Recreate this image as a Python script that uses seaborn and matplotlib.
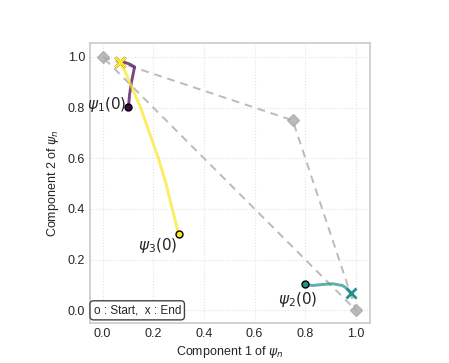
import numpy as np
import pandas as pd
import matplotlib
matplotlib.use("Agg")
import matplotlib.pyplot as plt
import seaborn as sns

# simplex corners (gray diamonds)
corner_x = [0.0, 0.75, 1.0]
corner_y = [1.0, 0.75, 0.0]

# trajectories
psi1_x = [0.102, 0.106, 0.114, 0.122, 0.126, 0.106, 0.083, 0.067]
psi1_y = [0.803, 0.850, 0.902, 0.941, 0.961, 0.972, 0.980, 0.980]
psi2_x = [0.799, 0.828, 0.868, 0.907, 0.946, 0.966, 0.979]
psi2_y = [0.102, 0.098, 0.102, 0.105, 0.098, 0.085, 0.070]
psi3_x = [0.300, 0.275, 0.250, 0.220, 0.185, 0.150, 0.115, 0.090, 0.067]
psi3_y = [0.300, 0.400, 0.500, 0.600, 0.700, 0.800, 0.880, 0.940, 0.980]

names = ["$\\psi_1(0)$", "$\\psi_2(0)$", "$\\psi_3(0)$"]
colors = ["#440154", "#21918c", "#fde725"]

sns.set_theme(style="whitegrid")
plt.rcParams["font.family"] = ["Liberation Sans", "DejaVu Sans"]

df = pd.concat([
    pd.DataFrame({"x": psi1_x, "y": psi1_y, "traj": names[0]}),
    pd.DataFrame({"x": psi2_x, "y": psi2_y, "traj": names[1]}),
    pd.DataFrame({"x": psi3_x, "y": psi3_y, "traj": names[2]}),
])

fig = plt.figure(figsize=(4.49, 3.63), dpi=100)
ax = fig.add_axes([0.2004, 0.1102, 0.6236, 0.7713])

# dashed triangle
tri = [0, 1, 2, 0]
ax.plot([corner_x[i] for i in tri], [corner_y[i] for i in tri], ls="--", color="#bbbbbb",
        lw=1.4, zorder=1, dashes=(4, 3))
ax.plot(corner_x, corner_y, "D", color="#aaaaaa", ms=6.5, alpha=0.8, ls="none", zorder=2)

sns.lineplot(data=df, x="x", y="y", hue="traj", palette=colors, sort=False,
             estimator=None, lw=2.1, alpha=0.72, legend=False, ax=ax, zorder=3)

offsets = [(-15.5, 2), (-5, -11), (-15, -8)]
for i, (xs, ys) in enumerate([(psi1_x, psi1_y), (psi2_x, psi2_y), (psi3_x, psi3_y)]):
    ax.plot(xs[0], ys[0], "o", color=colors[i], mec="black", mew=1, ms=5, zorder=5)
    ax.plot(xs[-1], ys[-1], "x", color=colors[i], ms=7, mew=2, zorder=5 + i)
    ax.annotate(names[i], (xs[0], ys[0]), xytext=offsets[i], textcoords="offset points",
                ha="center", va="center", fontsize=11)

ax.text(-0.036, 0.0, "o : Start,  x : End", fontsize=8.5, va="center", ha="left",
        bbox=dict(boxstyle="round,pad=0.3", fc="white", ec="#444444", lw=1), zorder=10)

ax.set_xlim(-0.05, 1.055)
ax.set_ylim(-0.05, 1.055)
ax.set_xticks(np.arange(0, 1.01, 0.2))
ax.set_yticks(np.arange(0, 1.01, 0.2))
ax.tick_params(labelsize=9, length=0, pad=3.5)
ax.grid(True, color="#e2e2e2", ls=":", lw=0.8)
for s in ax.spines.values():
    s.set_color("#cccccc")
ax.set_xlabel("Component 1 of $\\psi_n$", fontsize=9, labelpad=3)
ax.set_ylabel("Component 2 of $\\psi_n$", fontsize=9, labelpad=5)

fig.savefig("out.png", dpi=100)
